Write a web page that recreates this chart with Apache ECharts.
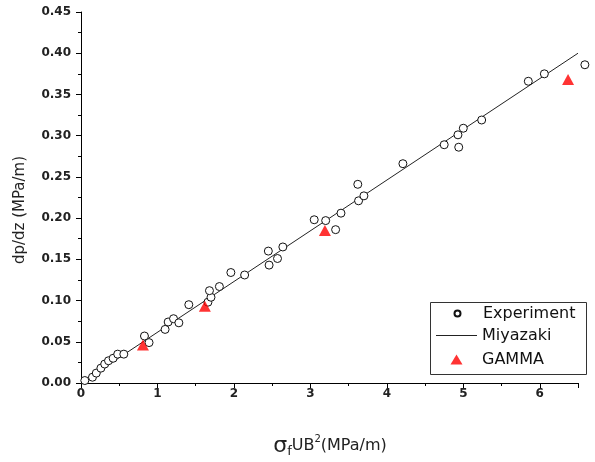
<!DOCTYPE html>
<html>
<head>
<meta charset="utf-8">
<script src="https://cdn.jsdelivr.net/npm/echarts@6/dist/echarts.min.js"></script>
<style>
html,body{margin:0;padding:0;background:#fff;}
#c{width:595px;height:462px;}
</style>
</head>
<body>
<div id="c"></div>
<script>
// ---- data ----
var experiment = [
  [0.05,0.003],[0.15,0.007],[0.20,0.012],[0.26,0.018],[0.31,0.023],[0.36,0.027],[0.42,0.030],[0.48,0.035],[0.56,0.035],
  [0.83,0.057],[0.89,0.049],
  [1.10,0.065],[1.14,0.074],[1.21,0.078],[1.28,0.073],[1.41,0.095],
  [1.66,0.098],[1.70,0.104],[1.68,0.112],[1.81,0.117],[1.96,0.134],[2.14,0.131],
  [2.45,0.160],[2.46,0.143],[2.57,0.151],[2.64,0.165],
  [3.05,0.198],[3.20,0.197],[3.33,0.186],[3.40,0.206],[3.62,0.241],[3.63,0.221],[3.70,0.227],
  [4.21,0.266],[4.75,0.289],[4.93,0.301],[4.94,0.286],[5.00,0.309],[5.24,0.319],
  [5.85,0.366],[6.06,0.375],[6.59,0.386]
];
var miyazaki = [[0,0],[6.5,0.40]];
var gamma = [[0.81,0.046],[1.62,0.093],[3.19,0.185],[6.37,0.368]];
var seriesNames = ['Experiment','Miyazaki','GAMMA'];
var xTitle = '{s|σ}{f|f}{n|UB}{p|2}{n|(MPa/m)}';
var yTitle = 'dp/dz (MPa/m)';

var FONT = 'DejaVu Sans';
var chart = echarts.init(document.getElementById('c'), null, {renderer:'canvas'});

var TEXT_X = 482;   // legend text start
var ICON_CX = 456.5; // legend icon centre
function legendFor(item, top, w, h) {
  var left = ICON_CX - w / 2;
  var padL = TEXT_X - (left + w + 5);
  return {
    data: [item], left: left, top: top, orient: 'vertical',
    itemWidth: w, itemHeight: h, itemGap: 0, padding: 0,
    selectedMode: false,
    textStyle: {fontFamily: FONT, fontSize: 16, color: '#111', lineHeight: 20, padding: [0, 0, 0, padL]}
  };
}

chart.setOption({
  animation: false,
  backgroundColor: '#fff',
  grid: {left: 81, right: 17, top: 12, bottom: 79, containLabel: false},
  xAxis: {
    type: 'value', min: 0, max: 6.5, interval: 1,
    axisLine: {show: true, onZero: false, lineStyle: {color: '#000', width: 1}},
    axisTick: {show: true, inside: false, length: 5, lineStyle: {color: '#000'}},
    minorTick: {show: true, splitNumber: 2, length: 3, lineStyle: {color: '#000'}},
    splitLine: {show: false},
    axisLabel: {margin: 5, fontFamily: FONT, fontSize: 12, fontWeight: 'bold', color: '#222',
      showMaxLabel: false}
  },
  yAxis: {
    type: 'value', min: 0, max: 0.45, interval: 0.05,
    axisLine: {show: true, onZero: false, lineStyle: {color: '#000', width: 1}},
    axisTick: {show: true, inside: false, length: 5, lineStyle: {color: '#000'}},
    minorTick: {show: true, splitNumber: 2, length: 3, lineStyle: {color: '#000'}},
    splitLine: {show: false},
    axisLabel: {margin: 10, fontFamily: FONT, fontSize: 12, fontWeight: 'bold', color: '#222',
      formatter: function(v){ return v.toFixed(2); }}
  },
  legend: [
    legendFor({name: seriesNames[0], icon: 'circle'}, 303.5, 6, 6),
    legendFor({name: seriesNames[1], icon: 'rect'}, 325.5, 41, 1),
    legendFor({name: seriesNames[2], icon: 'triangle'}, 349.5, 12, 10)
  ],
  series: [
    {
      name: seriesNames[1], type: 'line', data: miyazaki, showSymbol: false, symbol: 'none',
      lineStyle: {color: '#222', width: 1}, itemStyle: {color: '#222'}, z: 2, silent: true
    },
    {
      name: seriesNames[0], type: 'scatter', data: experiment, symbol: 'circle', symbolSize: 8,
      clip: false,
      itemStyle: {color: '#fff', borderColor: '#111', borderWidth: 1, opacity: 1}, z: 3
    },
    {
      name: seriesNames[2], type: 'scatter', data: gamma, symbol: 'triangle', symbolSize: [12, 11],
      itemStyle: {color: '#ff0000'}, z: 4
    }
  ],
  graphic: [
    {type: 'rect', left: 428, top: 300, shape: {width: 156, height: 72},
     style: {fill: null, stroke: '#333', lineWidth: 1}, z: 10, silent: true},
    {type: 'text', x: 20, y: 210, rotation: Math.PI / 2,
     style: {text: yTitle, fontFamily: FONT, fontSize: 15, fill: '#222', align: 'center', verticalAlign: 'middle'}},
    {type: 'text', x: 330, y: 446,
     style: {text: xTitle, align: 'center', verticalAlign: 'middle', fill: '#222',
       rich: {
         s: {fontFamily: FONT, fontSize: 22, fill: '#222', verticalAlign: 'middle', lineHeight: 24},
         f: {fontFamily: FONT, fontSize: 13, fill: '#222', verticalAlign: 'bottom', lineHeight: 13},
         n: {fontFamily: FONT, fontSize: 16, fill: '#222', verticalAlign: 'middle', lineHeight: 18},
         p: {fontFamily: FONT, fontSize: 10, fill: '#222', verticalAlign: 'top', lineHeight: 10}
       }}}
  ]
});
</script>
</body>
</html>
